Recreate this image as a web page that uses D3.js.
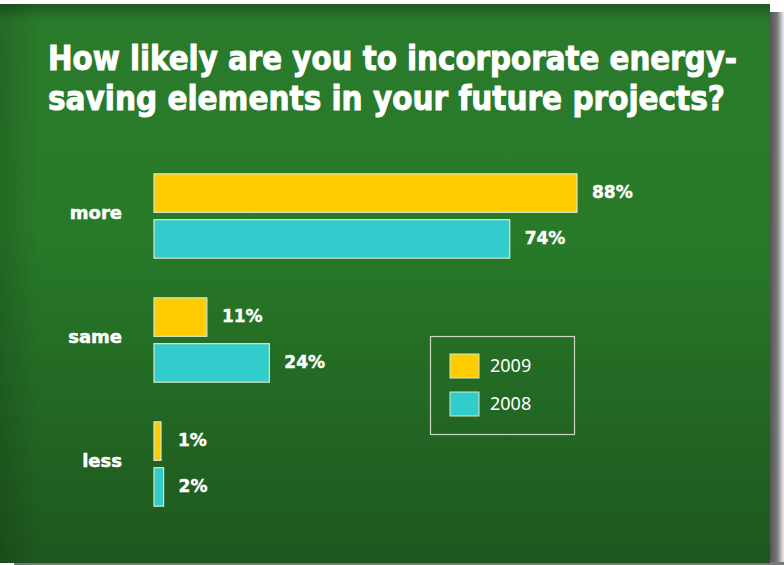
<!DOCTYPE html>
<html>
<head>
<meta charset="utf-8">
<script src="https://cdn.jsdelivr.net/npm/d3@7"></script>
<style>
body { margin: 0; background: #fff; }
svg { display: block; }
</style>
</head>
<body>
<svg id="chart"></svg>
<script>
// data
var categories = ["more", "same", "less"];
var years = ["2009", "2008"];
var values2009 = [88, 11, 1];
var values2008 = [74, 24, 2];
var titleLines = ["How likely are you to incorporate energy-", "saving elements in your future projects?"];

var W = 784, H = 565;
var svg = d3.select("#chart").attr("width", W).attr("height", H);
var defs = svg.append("defs");

// background gradients
var bg = defs.append("linearGradient").attr("id", "bg").attr("x1", 0).attr("y1", 0).attr("x2", 0).attr("y2", 1);
bg.append("stop").attr("offset", "0").attr("stop-color", "#1e5a1f");
bg.append("stop").attr("offset", "0.03").attr("stop-color", "#2a7a2b");
bg.append("stop").attr("offset", "0.4").attr("stop-color", "#287a29");
bg.append("stop").attr("offset", "1").attr("stop-color", "#1e571e");

var side = defs.append("linearGradient").attr("id", "side").attr("x1", 0).attr("y1", 0).attr("x2", 1).attr("y2", 0);
side.append("stop").attr("offset", "0").attr("stop-color", "#000").attr("stop-opacity", 0.14);
side.append("stop").attr("offset", "0.05").attr("stop-color", "#000").attr("stop-opacity", 0);

var shadowR = defs.append("linearGradient").attr("id", "shR").attr("x1", 0).attr("y1", 0).attr("x2", 1).attr("y2", 0);
shadowR.append("stop").attr("offset", "0").attr("stop-color", "#555");
shadowR.append("stop").attr("offset", "0.5").attr("stop-color", "#777");
shadowR.append("stop").attr("offset", "1").attr("stop-color", "#eee");

// drop shadow
svg.append("rect").attr("x", 770).attr("y", 12).attr("width", 14).attr("height", 553).attr("fill", "url(#shR)");
svg.append("rect").attr("x", 14).attr("y", 562).attr("width", 770).attr("height", 3).attr("fill", "#777");

// panel
svg.append("rect").attr("x", 0).attr("y", 4).attr("width", 770).attr("height", 559).attr("fill", "url(#bg)");
svg.append("rect").attr("x", 0).attr("y", 4).attr("width", 770).attr("height", 559).attr("fill", "url(#side)");

// title
svg.append("g").selectAll("text").data(titleLines).join("text")
  .attr("x", 48)
  .attr("y", function(d, i) { return 70 + i * 40; })
  .attr("textLength", function(d, i) { return i === 0 ? 689 : 677; })
  .attr("lengthAdjust", "spacingAndGlyphs")
  .attr("fill", "#fff")
  .attr("stroke", "#fff")
  .attr("stroke-width", 0.9)
  .style("font-family", "'DejaVu Sans Condensed', 'DejaVu Sans', sans-serif")
  .style("font-weight", "bold")
  .style("font-size", "33px")
  .text(function(d) { return d; });

// scales
var x = d3.scaleLinear().domain([0, 100]).range([154, 154 + 480.7]);
var yGroup = d3.scaleBand().domain(categories).range([154, 526]).paddingInner(0.32).paddingOuter(0.16);
var ySub = d3.scaleBand().domain(years).range([0, yGroup.bandwidth()]).paddingInner(0.16);
var colors = d3.scaleOrdinal().domain(years).range(["#ffcc00", "#33cccc"]);

var rows = [];
categories.forEach(function(c, i) {
  rows.push({ cat: c, year: "2009", v: values2009[i] });
  rows.push({ cat: c, year: "2008", v: values2008[i] });
});

var g = svg.append("g");

g.selectAll("rect.bar").data(rows).join("rect")
  .attr("class", "bar")
  .attr("x", x(0))
  .attr("y", function(d) { return yGroup(d.cat) + ySub(d.year); })
  .attr("width", function(d) { return Math.max(x(d.v) - x(0), 7); })
  .attr("height", ySub.bandwidth())
  .attr("fill", function(d) { return colors(d.year); })
  .attr("stroke", "#d8e8c8")
  .attr("stroke-width", 1.2);

g.selectAll("text.val").data(rows).join("text")
  .attr("class", "val")
  .attr("x", function(d) { return Math.max(x(d.v), 163) + 15; })
  .attr("y", function(d) { return yGroup(d.cat) + ySub(d.year) + ySub.bandwidth() / 2; })
  .attr("dy", "0.3em")
  .attr("fill", "#fff")
  .attr("stroke", "#fff")
  .attr("stroke-width", 0.4)
  .style("font-family", "'DejaVu Sans', sans-serif")
  .style("font-weight", "bold")
  .style("font-size", "17px")
  .text(function(d) { return d.v + "%"; });

g.selectAll("text.cat").data(categories).join("text")
  .attr("class", "cat")
  .attr("x", 122)
  .attr("y", function(d) { return yGroup(d) + yGroup.bandwidth() / 2; })
  .attr("dy", "0.15em")
  .attr("text-anchor", "end")
  .attr("fill", "#fff")
  .attr("stroke", "#fff")
  .attr("stroke-width", 0.5)
  .style("font-family", "'DejaVu Sans', sans-serif")
  .style("font-weight", "bold")
  .style("font-size", "18px")
  .text(function(d) { return d; });

// legend
var leg = svg.append("g");
leg.append("rect").attr("x", 430.5).attr("y", 336.5).attr("width", 144).attr("height", 98)
  .attr("fill", "none").attr("stroke", "#c8d8c0").attr("stroke-width", 1.2);
var li = leg.selectAll("g.item").data(years).join("g").attr("class", "item")
  .attr("transform", function(d, i) { return "translate(450," + (354 + i * 38) + ")"; });
li.append("rect").attr("width", 29).attr("height", 24)
  .attr("fill", function(d) { return colors(d); })
  .attr("stroke", "#d8e8c8").attr("stroke-width", 1);
li.append("text").attr("x", 40).attr("y", 12).attr("dy", "0.35em")
  .attr("fill", "#fff")
  .style("font-family", "'Noto Sans', sans-serif")
  .style("font-size", "18px")
  .text(function(d) { return d; });
</script>
</body>
</html>
